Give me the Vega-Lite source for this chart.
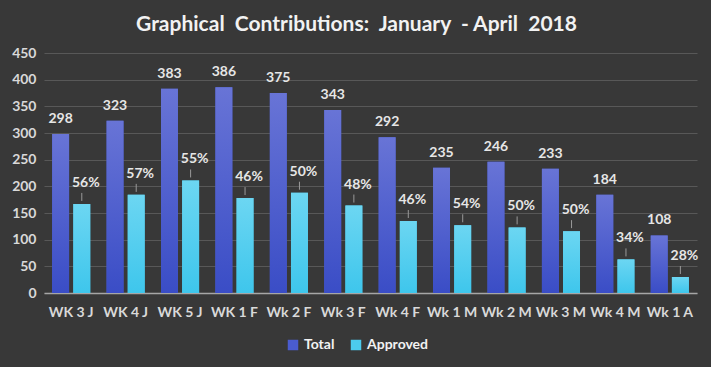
{
  "$schema": "https://vega.github.io/schema/vega-lite/v6.json",
  "width": 653,
  "height": 240,
  "autosize": {"type": "none"},
  "padding": {"left": 44, "top": 53, "right": 14, "bottom": 74},
  "background": "#383838",
  "title": {
    "text": "Graphical\u00a0\u00a0Contributions:\u00a0\u00a0January\u00a0\u00a0-\u00a0April\u00a0\u00a02018",
    "color": "#f2f2f2",
    "fontSize": 21,
    "font": "Lato",
    "fontWeight": "bold",
    "anchor": "middle",
    "offset": 11,
    "dx": -14
  },
  "config": {
    "view": {"stroke": null},
    "font": "Lato",
    "axis": {"labelFont": "Lato", "labelFontWeight": "bold", "labelColor": "#d9d9d9"}
  },
  "data": {
    "values": [
      {"week": "WK 3 J", "series": "Total", "value": 298, "label": "298"},
      {"week": "WK 3 J", "series": "Approved", "value": 167, "label": "56%"},
      {"week": "WK 4 J", "series": "Total", "value": 323, "label": "323"},
      {"week": "WK 4 J", "series": "Approved", "value": 184, "label": "57%"},
      {"week": "WK 5 J", "series": "Total", "value": 383, "label": "383"},
      {"week": "WK 5 J", "series": "Approved", "value": 211, "label": "55%"},
      {"week": "WK 1 F", "series": "Total", "value": 386, "label": "386"},
      {"week": "WK 1 F", "series": "Approved", "value": 178, "label": "46%"},
      {"week": "Wk 2 F", "series": "Total", "value": 375, "label": "375"},
      {"week": "Wk 2 F", "series": "Approved", "value": 188, "label": "50%"},
      {"week": "Wk 3 F", "series": "Total", "value": 343, "label": "343"},
      {"week": "Wk 3 F", "series": "Approved", "value": 164, "label": "48%"},
      {"week": "Wk 4 F", "series": "Total", "value": 292, "label": "292"},
      {"week": "Wk 4 F", "series": "Approved", "value": 135, "label": "46%"},
      {"week": "Wk 1 M", "series": "Total", "value": 235, "label": "235"},
      {"week": "Wk 1 M", "series": "Approved", "value": 127, "label": "54%"},
      {"week": "Wk 2 M", "series": "Total", "value": 246, "label": "246"},
      {"week": "Wk 2 M", "series": "Approved", "value": 123, "label": "50%"},
      {"week": "Wk 3 M", "series": "Total", "value": 233, "label": "233"},
      {"week": "Wk 3 M", "series": "Approved", "value": 116, "label": "50%"},
      {"week": "Wk 4 M", "series": "Total", "value": 184, "label": "184"},
      {"week": "Wk 4 M", "series": "Approved", "value": 63, "label": "34%"},
      {"week": "Wk 1 A", "series": "Total", "value": 108, "label": "108"},
      {"week": "Wk 1 A", "series": "Approved", "value": 30, "label": "28%"}
    ]
  },
  "encoding": {
    "x": {
      "field": "week",
      "type": "nominal",
      "sort": null,
      "scale": {"paddingInner": 0.3, "paddingOuter": 0.15},
      "axis": {
        "title": null,
        "labelAngle": 0,
        "labelFontSize": 14,
        "labelPadding": 12,
        "ticks": false,
        "domainColor": "#a6a6a6",
        "domainWidth": 1.5,
        "grid": false
      }
    },
    "xOffset": {
      "field": "series",
      "type": "nominal",
      "sort": ["Total", "Approved"],
      "scale": {"paddingInner": 0.2}
    },
    "y": {
      "field": "value",
      "type": "quantitative",
      "scale": {"domain": [0, 450]},
      "axis": {
        "title": null,
        "values": [0, 50, 100, 150, 200, 250, 300, 350, 400, 450],
        "labelFontSize": 14,
        "labelPadding": 8,
        "ticks": false,
        "domain": false,
        "gridColor": "#585858",
        "gridWidth": 1
      }
    }
  },
  "layer": [
    {
      "mark": {"type": "bar"},
      "encoding": {
        "color": {
          "field": "series",
          "type": "nominal",
          "sort": ["Total", "Approved"],
          "scale": {"domain": ["Total", "Approved"], "range": ["#4a5cd0", "#4ccbee"]},
          "legend": {
            "title": null,
            "orient": "none",
            "direction": "horizontal",
            "legendX": 242,
            "legendY": 285,
            "symbolType": "square",
            "symbolSize": 110,
            "symbolStrokeWidth": 0,
            "labelColor": "#f2f2f2",
            "labelFontSize": 14,
            "labelFontWeight": "bold",
            "labelFont": "Lato",
            "columnPadding": 14,
            "labelOffset": 4
          }
        }
      }
    },
    {
      "transform": [{"filter": "datum.series === 'Total'"}],
      "mark": {
        "type": "bar",
        "fill": {"gradient": "linear", "x1": 0, "y1": 0, "x2": 0, "y2": 1,
          "stops": [{"offset": 0, "color": "#6874d6"}, {"offset": 1, "color": "#3a4dc6"}]}
      }
    },
    {
      "transform": [{"filter": "datum.series === 'Approved'"}],
      "mark": {
        "type": "bar",
        "fill": {"gradient": "linear", "x1": 0, "y1": 0, "x2": 0, "y2": 1,
          "stops": [{"offset": 0, "color": "#6cd6f2"}, {"offset": 1, "color": "#3ec6ec"}]}
      }
    },
    {
      "transform": [{"filter": "datum.series === 'Approved'"}],
      "mark": {"type": "rule", "color": "#9a9a9a", "strokeWidth": 1, "yOffset": -3, "y2Offset": -11},
      "encoding": {
        "y2": {"field": "value"}
      }
    },
    {
      "transform": [{"filter": "datum.series === 'Total'"}],
      "mark": {"type": "text", "dy": -15, "fontSize": 14, "fontWeight": "bold", "color": "#e6e6e6", "font": "Lato"},
      "encoding": {"text": {"field": "label"}}
    },
    {
      "transform": [{"filter": "datum.series === 'Approved'"}],
      "mark": {"type": "text", "dy": -21, "dx": 4, "fontSize": 14, "fontWeight": "bold", "color": "#e6e6e6", "font": "Lato"},
      "encoding": {"text": {"field": "label"}}
    }
  ]
}
